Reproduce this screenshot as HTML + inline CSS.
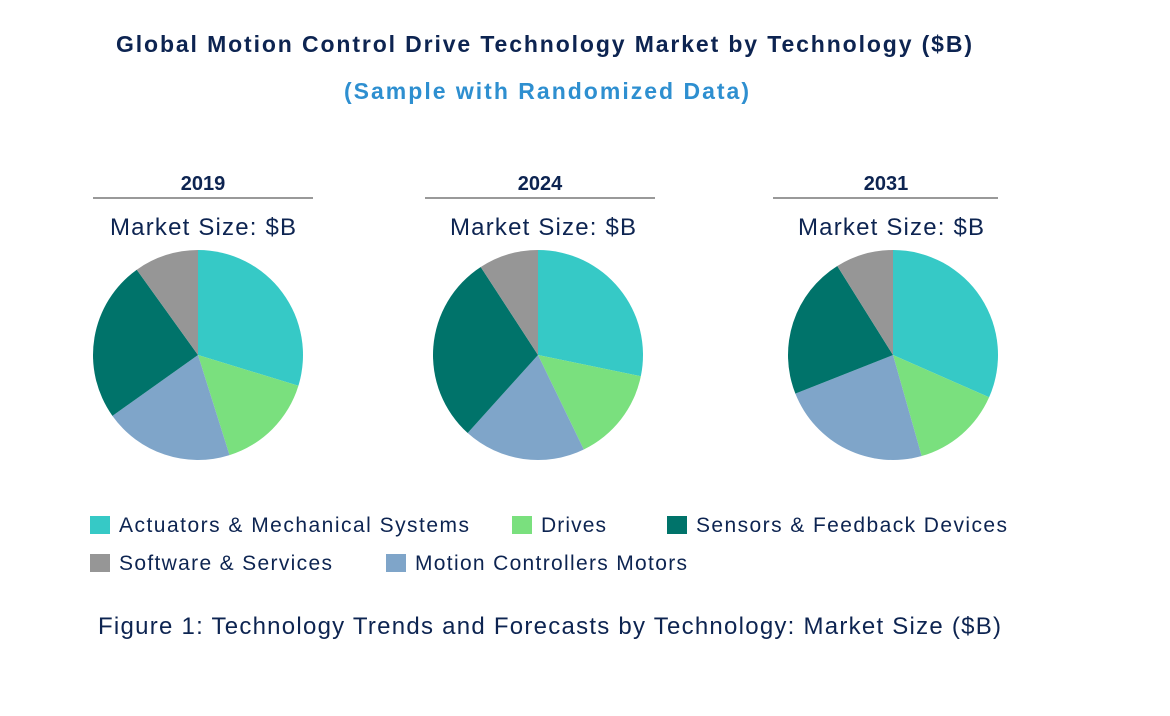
<!DOCTYPE html>
<html><head><meta charset="utf-8"><style>
body{margin:0;background:#fff;}
svg text{font-family:"Liberation Sans",Arial,sans-serif;}
</style></head><body>
<svg width="1170" height="711" viewBox="0 0 1170 711">
<rect width="1170" height="711" fill="#fff"/>
<text x="116" y="52" textLength="856" lengthAdjust="spacing" font-size="23" font-weight="bold" fill="#0D2451">Global Motion Control Drive Technology Market by Technology ($B)</text>
<text x="344" y="99" textLength="405" lengthAdjust="spacing" font-size="23" font-weight="bold" fill="#2E8FD0">(Sample with Randomized Data)</text>
<g id="pies"></g>
<g id="legend"></g>
<text x="98" y="634" textLength="903" lengthAdjust="spacing" font-size="24" fill="#0D2451">Figure 1: Technology Trends and Forecasts by Technology: Market Size ($B)</text>
</svg>
<script>
const years = ["2019","2024","2031"];
const categories = ["Actuators & Mechanical Systems","Drives","Motion Controllers Motors","Sensors & Feedback Devices","Software & Services"];
const values2019 = [29.7,15.4,20.0,24.9,9.9];
const values2024 = [28.3,14.6,18.9,29.2,9.2];
const values2031 = [31.6,14.0,23.4,22.1,8.9];
const colors = ["#36C9C6","#7AE07E","#7FA5C9","#00736A","#969696"];
const NS="http://www.w3.org/2000/svg";
const pies=document.getElementById('pies');
const layout=[{cx:198,lx1:93,lx2:313,tx:203,mx:110},{cx:538,lx1:425,lx2:655,tx:540,mx:450},{cx:893,lx1:773,lx2:998,tx:886,mx:798}];
const series=[values2019,values2024,values2031];
function mk(tag,attrs){const e=document.createElementNS(NS,tag);for(const k in attrs)e.setAttribute(k,attrs[k]);return e;}
layout.forEach((L,i)=>{
  const t=mk('text',{x:L.tx,y:190,'text-anchor':'middle','font-size':20,'font-weight':'bold',fill:'#0D2451'});
  t.textContent=years[i];
  
  
  pies.appendChild(t);
  const ln=mk('line',{x1:L.lx1,x2:L.lx2,y1:198,y2:198,stroke:'#333','stroke-width':1});
  
  
  pies.appendChild(ln);
  const m=mk('text',{x:L.mx,y:235,textLength:186,lengthAdjust:'spacing','font-size':24,fill:'#0D2451'});
  m.textContent='Market Size: $B';
  
  
  pies.appendChild(m);
  const vals=series[i];const tot=vals.reduce((a,b)=>a+b,0);
  const cx=L.cx,cy=355,r=105;let a=0;
  vals.forEach((v,j)=>{
    const a2=a+v/tot*2*Math.PI;
    const x1=cx+r*Math.sin(a),y1=cy-r*Math.cos(a),x2=cx+r*Math.sin(a2),y2=cy-r*Math.cos(a2);
    const p=mk('path',{d:`M${cx},${cy}L${x1},${y1}A${r},${r} 0 ${a2-a>Math.PI?1:0} 1 ${x2},${y2}Z`,fill:colors[j]});
    
    
    pies.appendChild(p);a=a2;
  });
});
const leg=document.getElementById('legend');
const legPos=[[0,90,514,350],[1,512,514,65],[3,667,514,311],[4,90,552,213],[2,386,552,272]];
legPos.forEach(([j,x,y,w])=>{
  const g=mk('g',{});
  
  
  g.appendChild(mk('rect',{x:x,y:y+2,width:20,height:18,fill:colors[j]}));
  const t=mk('text',{x:x+29,y:y+18,textLength:w,lengthAdjust:'spacing','font-size':21,fill:'#0D2451'});
  t.textContent=categories[j];g.appendChild(t);leg.appendChild(g);
});
</script>
</body></html>
